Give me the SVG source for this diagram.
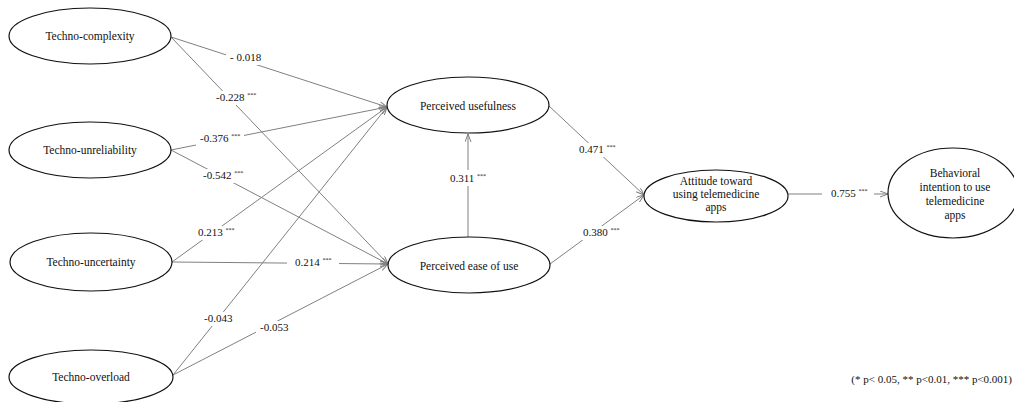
<svg xmlns="http://www.w3.org/2000/svg" width="1014" height="402" viewBox="0 0 1014 402">
<style>
.node{fill:#fff;stroke:#111;stroke-width:1.2}
.nt{font-family:"Liberation Serif",serif;font-size:11.5px;fill:#111;text-anchor:middle}
.ln{stroke:#808080;stroke-width:1;fill:none}
.lb{font-family:"Liberation Serif",serif;font-size:11px;fill:#111}
.st{font-size:6px}
.bg{fill:#fff}
</style>
<defs>
<marker id="arr" markerWidth="10" markerHeight="8" refX="8" refY="3" orient="auto" markerUnits="userSpaceOnUse">
<path d="M0,0 L8,3 L0,6" fill="none" stroke="#808080" stroke-width="1"/>
</marker>
</defs>
<g id="connectors">
<line class="ln" x1="171" y1="37" x2="387" y2="107" marker-end="url(#arr)"/>
<line class="ln" x1="171" y1="37" x2="388" y2="264" marker-end="url(#arr)"/>
<line class="ln" x1="171" y1="150" x2="387" y2="107" marker-end="url(#arr)"/>
<line class="ln" x1="171" y1="150" x2="388" y2="264" marker-end="url(#arr)"/>
<line class="ln" x1="172" y1="262" x2="387" y2="107" marker-end="url(#arr)"/>
<line class="ln" x1="172" y1="262" x2="388" y2="264" marker-end="url(#arr)"/>
<line class="ln" x1="173" y1="375" x2="387" y2="107" marker-end="url(#arr)"/>
<line class="ln" x1="173" y1="375" x2="388" y2="264" marker-end="url(#arr)"/>
<line class="ln" x1="468" y1="237" x2="468" y2="134" marker-end="url(#arr)"/>
<line class="ln" x1="549" y1="106" x2="644" y2="195" marker-end="url(#arr)"/>
<line class="ln" x1="550" y1="264" x2="644" y2="195" marker-end="url(#arr)"/>
<line class="ln" x1="788" y1="194" x2="822" y2="194"/>
<line class="ln" x1="874" y1="194" x2="888" y2="194" marker-end="url(#arr)"/>
<rect class="bg" x="226" y="51" width="39" height="14"/>
<rect class="bg" x="212" y="91" width="48" height="14"/>
<rect class="bg" x="196" y="132" width="48" height="14"/>
<rect class="bg" x="199" y="169" width="48" height="14"/>
<rect class="bg" x="194" y="226" width="45" height="14"/>
<rect class="bg" x="287" y="256" width="52" height="14"/>
<rect class="bg" x="200" y="312" width="37" height="14"/>
<rect class="bg" x="256" y="321" width="37" height="14"/>
<rect class="bg" x="446" y="170" width="45" height="16"/>
<rect class="bg" x="575" y="143" width="45" height="14"/>
<rect class="bg" x="579" y="226" width="45" height="14"/>
<text class="lb" x="230" y="61">- 0.018</text>
<text class="lb" x="216" y="101">-0.228 <tspan class="st" dy="-4">***</tspan></text>
<text class="lb" x="200" y="142">-0.376 <tspan class="st" dy="-4">***</tspan></text>
<text class="lb" x="203" y="179">-0.542 <tspan class="st" dy="-4">***</tspan></text>
<text class="lb" x="198" y="236">0.213 <tspan class="st" dy="-4">***</tspan></text>
<text class="lb" x="295" y="266">0.214 <tspan class="st" dy="-4">***</tspan></text>
<text class="lb" x="204" y="322">-0.043</text>
<text class="lb" x="260" y="331">-0.053</text>
<text class="lb" x="450" y="182">0.311 <tspan class="st" dy="-4">***</tspan></text>
<text class="lb" x="579" y="153">0.471 <tspan class="st" dy="-4">***</tspan></text>
<text class="lb" x="583" y="236">0.380 <tspan class="st" dy="-4">***</tspan></text>
<text class="lb" x="831" y="197">0.755 <tspan class="st" dy="-4">***</tspan></text>
</g>
<g id="techno-complexity">
<ellipse class="node" cx="90" cy="36" rx="81" ry="28"/>
<text class="nt" x="90" y="40">Techno-complexity</text>
</g>
<g id="techno-unreliability">
<ellipse class="node" cx="90" cy="150" rx="81" ry="28"/>
<text class="nt" x="90" y="154">Techno-unreliability</text>
</g>
<g id="techno-uncertainty">
<ellipse class="node" cx="91" cy="262" rx="81" ry="29"/>
<text class="nt" x="91" y="266">Techno-uncertainty</text>
</g>
<g id="techno-overload">
<ellipse class="node" cx="91" cy="377" rx="82" ry="27"/>
<text class="nt" x="91" y="381">Techno-overload</text>
</g>
<g id="perceived-usefulness">
<ellipse class="node" cx="468" cy="105" rx="81" ry="28"/>
<text class="nt" x="468" y="110">Perceived usefulness</text>
</g>
<g id="perceived-ease-of-use">
<ellipse class="node" cx="469" cy="265" rx="81" ry="28"/>
<text class="nt" x="469" y="270">Perceived ease of use</text>
</g>
<g id="attitude">
<ellipse class="node" cx="716" cy="196" rx="72" ry="26"/>
<text class="nt" x="716" y="185">Attitude toward</text>
<text class="nt" x="716" y="198">using telemedicine</text>
<text class="nt" x="716" y="211">apps</text>
</g>
<g id="behavioral-intention">
<ellipse class="node" cx="953" cy="193" rx="65" ry="45"/>
<text class="nt" x="955" y="177">Behavioral</text>
<text class="nt" x="955" y="191">intention to use</text>
<text class="nt" x="955" y="205">telemedicine</text>
<text class="nt" x="955" y="219">apps</text>
</g>
<text class="lb" x="1012" y="383" text-anchor="end" font-size="10.5">(* p&lt; 0.05, ** p&lt;0.01, *** p&lt;0.001)</text>
</svg>
